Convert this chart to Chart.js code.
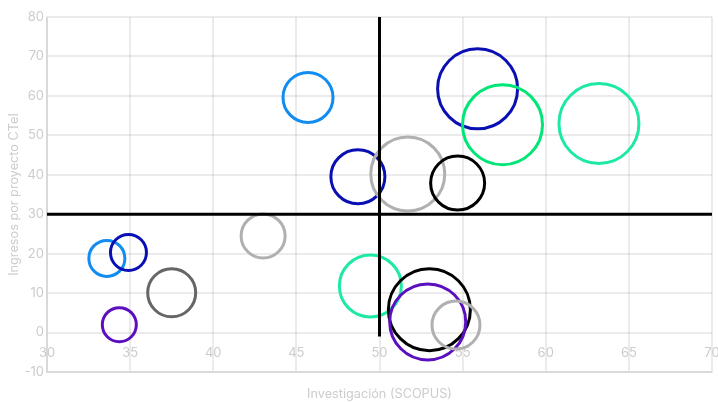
<!DOCTYPE html>
<html>
<head>
<meta charset="utf-8">
<script src="https://cdn.jsdelivr.net/npm/chart.js@4/dist/chart.umd.min.js"></script>
<style>
  html, body { margin: 0; padding: 0; background: #fff; }
  #wrap { width: 718px; height: 402px; }
</style>
</head>
<body>
<div id="wrap"><canvas id="chart"></canvas></div>
<script>
// valores
const investigacion = [45.7, 55.9, 57.4, 63.2, 48.7, 51.7, 54.7, 43.0, 33.6, 34.9, 37.5, 34.35, 49.45, 53.0, 52.9, 54.6];
const ingresos      = [59.6, 61.8, 52.7, 53.0, 39.5, 40.2, 37.9, 24.5, 18.8, 20.3, 10.1, 2.0, 11.8, 5.8, 2.7, 1.9];
const radios        = [25, 40, 40, 40, 27, 37, 27, 22, 18, 18, 24, 17, 31, 41, 38, 24];
const colores = ["#118cf0", "#0a0fb4", "#00e676", "#1de9a4", "#0a0fb4", "#b0b0b0", "#000000", "#b0b0b0",
                 "#118cf0", "#0a0fb4", "#666666", "#5b0fbf", "#1de9a4", "#000000", "#5b0fbf", "#b0b0b0"];

// lineas de cuadrantes
const corteX = [50, 50], corteXy = [80, -1];
const corteY = [30, 70], corteYy = [30, 30];

const burbujas = investigacion.map((x, i) => ({ x, y: ingresos[i], r: radios[i] }));

Chart.defaults.font.family = "Inter";
Chart.defaults.font.size = 12.7;

const gridColor = "rgba(0,0,0,0.08)";
const txtColor = "#cccccc";

new Chart(document.getElementById("chart"), {
  type: "bubble",
  data: {
    datasets: [
      { type: "line", data: corteX.map((x, i) => ({ x, y: corteXy[i] })), borderColor: "#000", borderWidth: 3, pointRadius: 0, fill: false, tension: 0 },
      { type: "line", data: corteY.map((x, i) => ({ x, y: corteYy[i] })), borderColor: "#000", borderWidth: 3, pointRadius: 0, fill: false, tension: 0 },
      { data: burbujas, borderColor: colores, backgroundColor: "rgba(0,0,0,0)", borderWidth: 3, hoverBorderWidth: 3 }
    ]
  },
  options: {
    responsive: true, maintainAspectRatio: false, animation: false,
    layout: { autoPadding: false, padding: { top: 17, right: 6, left: 0, bottom: 0 } },
    plugins: { legend: { display: false }, tooltip: { enabled: false } },
    scales: {
      x: {
        type: "linear", min: 30, max: 70,
        ticks: { stepSize: 5, color: txtColor, font: { size: 13 }, padding: 11, mirror: true, autoSkip: false, maxRotation: 0 },
        grid: { drawTicks: false, color: gridColor, lineWidth: 2 },
        border: { color: gridColor, width: 2 },
        title: { display: true, text: "Investigación (SCOPUS)", color: txtColor, padding: { top: 4, bottom: 0 } },
        afterFit: (s) => { s.height = 30; s.paddingLeft = 0; s.paddingRight = 0; }
      },
      y: {
        min: -10, max: 80,
        ticks: { stepSize: 10, color: txtColor, font: { size: 13 }, padding: 3 },
        grid: { drawTicks: false, color: gridColor, lineWidth: 2 },
        border: { color: gridColor, width: 2 },
        title: { display: true, text: "Ingresos por proyecto CTeI", color: txtColor, padding: { top: 7, bottom: 2 } },
        afterFit: (s) => { s.width = 47; }
      }
    }
  }
});
</script>
</body>
</html>
